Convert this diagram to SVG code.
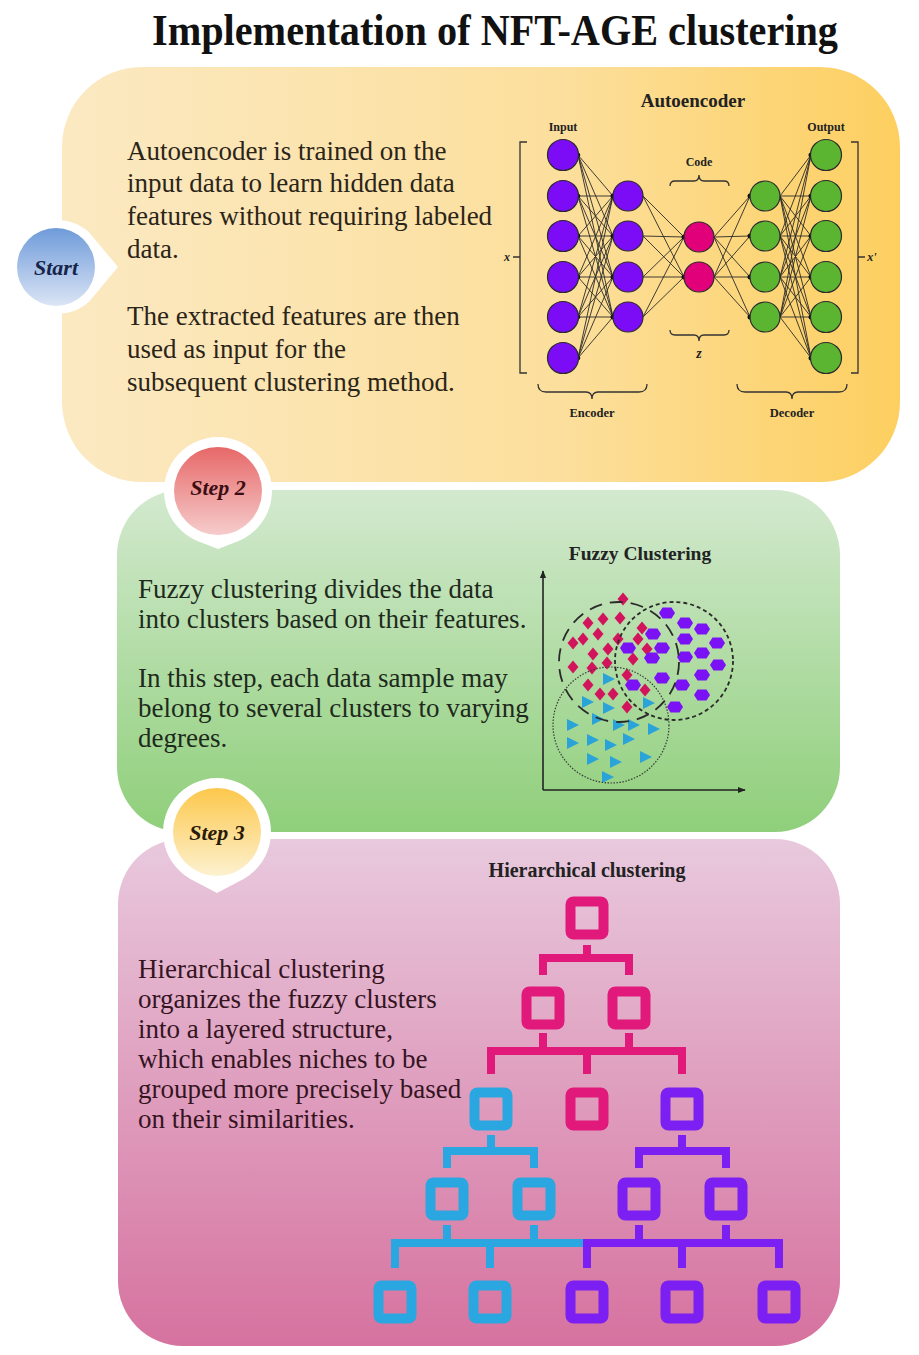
<svg xmlns="http://www.w3.org/2000/svg" width="919" height="1355" viewBox="0 0 919 1355">
<defs>
<linearGradient id="gY" x1="0" y1="0" x2="1" y2="0"><stop offset="0" stop-color="#fbe9c2"/><stop offset="0.6" stop-color="#fcdf9c"/><stop offset="1" stop-color="#fdcf60"/></linearGradient>
<linearGradient id="gG" x1="0" y1="0" x2="0" y2="1"><stop offset="0" stop-color="#d3e9cf"/><stop offset="1" stop-color="#8fcf7a"/></linearGradient>
<linearGradient id="gP" x1="0" y1="0" x2="0" y2="1"><stop offset="0" stop-color="#e8c9dd"/><stop offset="1" stop-color="#d6729f"/></linearGradient>
<linearGradient id="cB" x1="0" y1="0" x2="0" y2="1"><stop offset="0" stop-color="#6f9bda"/><stop offset="1" stop-color="#dbe5f5"/></linearGradient>
<linearGradient id="cR" x1="0" y1="0" x2="0" y2="1"><stop offset="0" stop-color="#e76868"/><stop offset="1" stop-color="#f6cccc"/></linearGradient>
<linearGradient id="cYl" x1="0" y1="0" x2="0" y2="1"><stop offset="0" stop-color="#fcc84c"/><stop offset="1" stop-color="#fdf1d0"/></linearGradient>
<path id="dia" d="M0,-6.5 L5.5,0 L0,6.5 L-5.5,0Z" fill="#d2145c"/>
<path id="pel" d="M-8,0 L-4.5,-5.5 L4.5,-5.5 L8,0 L4.5,5.5 L-4.5,5.5Z" fill="#7a12f5"/>
<path id="tri" d="M-5,-6 L7,0 L-5,6Z" fill="#2aa3d8"/>
<marker id="ah" viewBox="0 0 10 10" refX="9" refY="5" markerWidth="8" markerHeight="8" orient="auto" markerUnits="userSpaceOnUse"><path d="M0,1 L10,5 L0,9Z" fill="#222"/></marker>
<style>
.body{font-family:"Liberation Serif","Times New Roman",serif;font-size:27px}
.b1{fill:#2b2418}.b2{fill:#1e2a1c}.b3{fill:#35141f}
.lbl{font-family:"Liberation Serif","Times New Roman",serif;font-weight:bold;fill:#222;text-anchor:middle}
.step{font-family:"Liberation Serif","Times New Roman",serif;font-weight:bold;font-style:italic;font-size:22px;text-anchor:middle}
.ring{fill:#ffffff}
.nP{fill:#7c0cf5;stroke:#2b2b2b;stroke-width:1.2}
.nK{fill:#e2007a;stroke:#2b2b2b;stroke-width:1.2}
.nG{fill:#5cb531;stroke:#2b2b2b;stroke-width:1.2}
.w{stroke:#2a2a2a;stroke-width:0.9;fill:none}
.br{stroke:#333;stroke-width:1.3;fill:none}
.tn{fill:none;stroke-width:10}
.tc{fill:none;stroke-width:8}
.pk{stroke:#e0197b}.cy{stroke:#2aa7e0}.pu{stroke:#7b1ff2}
</style>
</defs>
<rect width="919" height="1355" fill="#ffffff"/>

<text x="495" y="45" font-family="Liberation Serif,'Times New Roman',serif" font-weight="bold" font-size="45" text-anchor="middle" fill="#111" textLength="686" lengthAdjust="spacingAndGlyphs">Implementation of NFT-AGE clustering</text>

<g id="panel-autoencoder">
<rect x="62" y="67" width="838" height="415" rx="80" fill="url(#gY)"/>
<text class="body b1"><tspan x="127" y="160">Autoencoder is trained on the</tspan><tspan x="127" y="192">input data to learn hidden data</tspan><tspan x="127" y="225">features without requiring labeled</tspan><tspan x="127" y="258">data.</tspan><tspan x="127" y="325">The extracted features are then</tspan><tspan x="127" y="358">used as input for the</tspan><tspan x="127" y="391">subsequent clustering method.</tspan></text>
<text class="lbl" x="693" y="107" font-size="19">Autoencoder</text>
<text class="lbl" x="563" y="131" font-size="12">Input</text>
<text class="lbl" x="826" y="131" font-size="12">Output</text>
<text class="lbl" x="699" y="166" font-size="12">Code</text>
<text class="lbl" x="699" y="358" font-size="14" font-style="italic">z</text>
<text class="lbl" x="592" y="417" font-size="12.5">Encoder</text>
<text class="lbl" x="792" y="417" font-size="12.5">Decoder</text>
<text class="lbl" x="507" y="261" font-size="12" font-style="italic">x</text>
<text class="lbl" x="872" y="261" font-size="12" font-style="italic">x'</text>
<path class="br" d="M527,142 H520 V373 H527 M520,257 H513"/>
<path class="br" d="M851,142 H858 V373 H851 M858,257 H865"/>
<path class="br" d="M670,186 Q670,181 675,181 H694 Q699,181 699,175 Q699,181 704,181 H724 Q729,181 729,186"/>
<path class="br" d="M670,330 Q670,335 675,335 H694 Q699,335 699,341 Q699,335 704,335 H724 Q729,335 729,330"/>
<path class="br" d="M538,384 Q538,392 546,392 H586 Q592,392 592,399 Q592,392 598,392 H639 Q647,392 647,384"/>
<path class="br" d="M737,384 Q737,392 745,392 H786 Q792,392 792,399 Q792,392 798,392 H839 Q847,392 847,384"/>
</g>

<g id="connectors">
<path class="w" d="M578,155L613,196M578,155L613,236M578,155L613,277M578,155L613,317M578,196L613,196M578,196L613,236M578,196L613,277M578,196L613,317M578,236L613,196M578,236L613,236M578,236L613,277M578,236L613,317M578,277L613,196M578,277L613,236M578,277L613,277M578,277L613,317M578,317L613,196M578,317L613,236M578,317L613,277M578,317L613,317M578,358L613,196M578,358L613,236M578,358L613,277M578,358L613,317"/>
<path class="w" d="M643,196L684,237M643,196L684,277M643,236L684,237M643,236L684,277M643,277L684,237M643,277L684,277M643,317L684,237M643,317L684,277"/>
<path class="w" d="M714,237L750,196M714,237L750,236M714,237L750,277M714,237L750,317M714,277L750,196M714,277L750,236M714,277L750,277M714,277L750,317"/>
<path class="w" d="M780,196L811,155M780,196L811,196M780,196L811,236M780,196L811,277M780,196L811,317M780,196L811,358M780,236L811,155M780,236L811,196M780,236L811,236M780,236L811,277M780,236L811,317M780,236L811,358M780,277L811,155M780,277L811,196M780,277L811,236M780,277L811,277M780,277L811,317M780,277L811,358M780,317L811,155M780,317L811,196M780,317L811,236M780,317L811,277M780,317L811,317M780,317L811,358"/>
<g fill="#111">
<circle cx="578" cy="155" r="2.3"/><circle cx="578" cy="196" r="2.3"/><circle cx="578" cy="236" r="2.3"/><circle cx="578" cy="277" r="2.3"/><circle cx="578" cy="317" r="2.3"/><circle cx="578" cy="358" r="2.3"/>
<circle cx="613" cy="196" r="2.5"/><circle cx="613" cy="236" r="2.5"/><circle cx="613" cy="277" r="2.5"/><circle cx="613" cy="317" r="2.5"/>
<circle cx="684" cy="237" r="2.5"/><circle cx="684" cy="277" r="2.5"/>
<circle cx="750" cy="196" r="2.5"/><circle cx="750" cy="236" r="2.5"/><circle cx="750" cy="277" r="2.5"/><circle cx="750" cy="317" r="2.5"/>
<circle cx="811" cy="155" r="2.5"/><circle cx="811" cy="196" r="2.5"/><circle cx="811" cy="236" r="2.5"/><circle cx="811" cy="277" r="2.5"/><circle cx="811" cy="317" r="2.5"/><circle cx="811" cy="358" r="2.5"/>
</g>
</g>

<g id="nn-nodes">
<circle class="nP" cx="563" cy="155" r="15.5"/><circle class="nP" cx="563" cy="196" r="15.5"/><circle class="nP" cx="563" cy="236" r="15.5"/><circle class="nP" cx="563" cy="277" r="15.5"/><circle class="nP" cx="563" cy="317" r="15.5"/><circle class="nP" cx="563" cy="358" r="15.5"/>
<circle class="nP" cx="628" cy="196" r="15"/><circle class="nP" cx="628" cy="236" r="15"/><circle class="nP" cx="628" cy="277" r="15"/><circle class="nP" cx="628" cy="317" r="15"/>
<circle class="nK" cx="699" cy="237" r="15"/><circle class="nK" cx="699" cy="277" r="15"/>
<circle class="nG" cx="765" cy="196" r="15"/><circle class="nG" cx="765" cy="236" r="15"/><circle class="nG" cx="765" cy="277" r="15"/><circle class="nG" cx="765" cy="317" r="15"/>
<circle class="nG" cx="826" cy="155" r="15.5"/><circle class="nG" cx="826" cy="196" r="15.5"/><circle class="nG" cx="826" cy="236" r="15.5"/><circle class="nG" cx="826" cy="277" r="15.5"/><circle class="nG" cx="826" cy="317" r="15.5"/><circle class="nG" cx="826" cy="358" r="15.5"/>
</g>

<g id="panel-fuzzy">
<rect x="117" y="490" width="723" height="342" rx="65" fill="url(#gG)"/>
<text class="body b2"><tspan x="138" y="598">Fuzzy clustering divides the data</tspan><tspan x="138" y="628">into clusters based on their features.</tspan><tspan x="138" y="687">In this step, each data sample may</tspan><tspan x="138" y="717">belong to several clusters to varying</tspan><tspan x="138" y="747">degrees.</tspan></text>
<text class="lbl" x="640" y="560" font-size="19.5">Fuzzy Clustering</text>
<path d="M543,790 V571" stroke="#222" stroke-width="1.6" fill="none" marker-end="url(#ah)"/>
<path d="M543,790 H745" stroke="#222" stroke-width="1.6" fill="none" marker-end="url(#ah)"/>
<g>
<use href="#dia" x="623" y="599"/><use href="#dia" x="588" y="623"/><use href="#dia" x="603" y="619"/><use href="#dia" x="620" y="618"/><use href="#dia" x="573" y="643"/><use href="#dia" x="583" y="639"/><use href="#dia" x="598" y="634"/><use href="#dia" x="618" y="639"/><use href="#dia" x="638" y="639"/><use href="#dia" x="642" y="628"/><use href="#dia" x="608" y="649"/><use href="#dia" x="593" y="654"/><use href="#dia" x="647" y="649"/><use href="#dia" x="633" y="659"/><use href="#dia" x="573" y="667"/><use href="#dia" x="592" y="668"/><use href="#dia" x="607" y="663"/><use href="#dia" x="627" y="675"/><use href="#dia" x="588" y="685"/><use href="#dia" x="600" y="694"/><use href="#dia" x="613" y="694"/><use href="#dia" x="645" y="690"/><use href="#dia" x="627" y="707"/>
<use href="#pel" x="667" y="613"/><use href="#pel" x="653" y="634"/><use href="#pel" x="685" y="623"/><use href="#pel" x="702" y="629"/><use href="#pel" x="685" y="639"/><use href="#pel" x="717" y="643"/><use href="#pel" x="628" y="648"/><use href="#pel" x="662" y="648"/><use href="#pel" x="702" y="653"/><use href="#pel" x="685" y="657"/><use href="#pel" x="652" y="658"/><use href="#pel" x="718" y="665"/><use href="#pel" x="662" y="678"/><use href="#pel" x="702" y="675"/><use href="#pel" x="633" y="685"/><use href="#pel" x="682" y="685"/><use href="#pel" x="702" y="695"/><use href="#pel" x="675" y="707"/>
<use href="#tri" x="608" y="679"/><use href="#tri" x="587" y="702"/><use href="#tri" x="608" y="708"/><use href="#tri" x="648" y="703"/><use href="#tri" x="597" y="719"/><use href="#tri" x="618" y="725"/><use href="#tri" x="633" y="725"/><use href="#tri" x="653" y="729"/><use href="#tri" x="572" y="725"/><use href="#tri" x="572" y="743"/><use href="#tri" x="592" y="740"/><use href="#tri" x="610" y="745"/><use href="#tri" x="628" y="739"/><use href="#tri" x="592" y="759"/><use href="#tri" x="615" y="762"/><use href="#tri" x="645" y="757"/><use href="#tri" x="607" y="777"/>
</g>
<circle cx="619" cy="662" r="60" fill="none" stroke="#2a2a2a" stroke-width="1.8" stroke-dasharray="13 8"/>
<circle cx="674" cy="661" r="59" fill="none" stroke="#2a2a2a" stroke-width="1.8" stroke-dasharray="4 3"/>
<circle cx="611" cy="725" r="58" fill="none" stroke="#3a3a3a" stroke-width="1.2" stroke-dasharray="1.5 1.5"/>
</g>

<g id="panel-hierarchical">
<rect x="118" y="839" width="722" height="507" rx="65" fill="url(#gP)"/>
<text class="body b3"><tspan x="138" y="978">Hierarchical clustering</tspan><tspan x="138" y="1008">organizes the fuzzy clusters</tspan><tspan x="138" y="1038">into a layered structure,</tspan><tspan x="138" y="1068">which enables niches to be</tspan><tspan x="138" y="1098">grouped more precisely based</tspan><tspan x="138" y="1128">on their similarities.</tspan></text>
<text class="lbl" x="587" y="877" font-size="20">Hierarchical clustering</text>
</g>

<g id="tree-connectors">
<path class="tc pk" d="M587,945 V958 M543,975 V958 H629 V975"/>
<path class="tc pk" d="M543,1033 V1051 M629,1033 V1051 M491,1074 V1051 H682 V1074 M587,1051 V1074"/>
<path class="tc cy" d="M491,1135 V1151 M447,1168 V1151 H534 V1168"/>
<path class="tc pu" d="M682,1135 V1151 M639,1168 V1151 H726 V1168"/>
<path class="tc cy" d="M447,1225 V1243 M534,1225 V1243 M395,1268 V1243 H583 M490,1243 V1268"/>
<path class="tc pu" d="M639,1225 V1243 M726,1225 V1243 M587,1268 V1243 H779 V1268 M682,1243 V1268"/>
</g>

<g id="tree-nodes">
<rect class="tn pk" x="570.5" y="901.5" width="33" height="33" rx="3"/>
<rect class="tn pk" x="526.5" y="991.5" width="33" height="33" rx="3"/>
<rect class="tn pk" x="612.5" y="991.5" width="33" height="33" rx="3"/>
<rect class="tn cy" x="474.5" y="1092.5" width="33" height="33" rx="3"/>
<rect class="tn pk" x="570.5" y="1092.5" width="33" height="33" rx="3"/>
<rect class="tn pu" x="665.5" y="1092.5" width="33" height="33" rx="3"/>
<rect class="tn cy" x="430.5" y="1182.5" width="33" height="33" rx="3"/>
<rect class="tn cy" x="517.5" y="1182.5" width="33" height="33" rx="3"/>
<rect class="tn pu" x="622.5" y="1182.5" width="33" height="33" rx="3"/>
<rect class="tn pu" x="709.5" y="1182.5" width="33" height="33" rx="3"/>
<rect class="tn cy" x="378.5" y="1285.5" width="33" height="33" rx="3"/>
<rect class="tn cy" x="473.5" y="1285.5" width="33" height="33" rx="3"/>
<rect class="tn pu" x="570.5" y="1285.5" width="33" height="33" rx="3"/>
<rect class="tn pu" x="665.5" y="1285.5" width="33" height="33" rx="3"/>
<rect class="tn pu" x="762.5" y="1285.5" width="33" height="33" rx="3"/>
</g>

<g id="start">
<path class="ring" d="M118,267 L89.2,232.5 A47,47 0 1 0 89.2,301.5 Z"/>
<circle cx="56" cy="267" r="39" fill="url(#cB)"/>
<text class="step" x="56" y="275" font-size="21" fill="#16244a">Start</text>
</g>

<g id="step2">
<path class="ring" d="M218,549 L239.8,540.4 A54,54 0 1 0 196.2,540.4 Z"/>
<circle cx="218" cy="491" r="44" fill="url(#cR)"/>
<text class="step" x="218" y="495" fill="#3a0e12">Step 2</text>
</g>

<g id="step3">
<path class="ring" d="M217,893 L238.8,881.4 A54,54 0 1 0 195.2,881.4 Z"/>
<circle cx="217" cy="832" r="44" fill="url(#cYl)"/>
<text class="step" x="217" y="840" fill="#2a1a08">Step 3</text>
</g>
</svg>
